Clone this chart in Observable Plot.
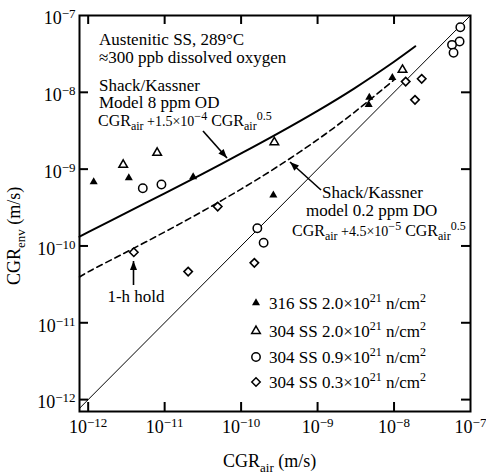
<!DOCTYPE html>
<html><head><meta charset="utf-8">
<script src="https://cdn.jsdelivr.net/npm/d3@7"></script>
<script src="https://cdn.jsdelivr.net/npm/@observablehq/plot@0.6"></script>
<style>
body{margin:0;background:#fff}
svg{font-family:"Liberation Serif","Times New Roman",serif}
svg text{white-space:pre}
</style>
</head><body><div id="chart"></div>
<script>
// ---- axis ticks ----
const decadeTicks = [1e-12, 1e-11, 1e-10, 1e-9, 1e-8, 1e-7];
const xDomain = [7.7e-13, 1e-7];
const yDomain = [7e-13, 1e-7];

// ---- data series ----
// 316 SS 2.0x10^21 n/cm^2 (filled triangles)
const ss316_x = [1.18e-12, 3.4e-12, 2.36e-11, 2.64e-10, 4.75e-9, 4.66e-9, 9.5e-9];
const ss316_y = [6.8e-10, 7.7e-10, 7.9e-10, 4.6e-10, 8.6e-9, 6.9e-9, 1.55e-8];
// 304 SS 2.0x10^21 n/cm^2 (open triangles)
const ss304a_x = [2.87e-12, 7.98e-12, 2.72e-10, 1.29e-8];
const ss304a_y = [1.14e-9, 1.63e-9, 2.24e-9, 1.96e-8];
// 304 SS 0.9x10^21 n/cm^2 (open circles)
const ss304b_x = [5.18e-12, 9.08e-12, 1.63e-10, 1.97e-10, 7.36e-8, 7.2e-8, 5.73e-8, 6.0e-8];
const ss304b_y = [5.64e-10, 6.3e-10, 1.70e-10, 1.1e-10, 7.04e-8, 4.58e-8, 4.15e-8, 3.27e-8];
// 304 SS 0.3x10^21 n/cm^2 (open diamonds)
const ss304c_x = [3.95e-12, 2.03e-11, 4.94e-11, 1.49e-10, 1.42e-8, 2.3e-8, 1.88e-8];
const ss304c_y = [8.28e-11, 4.64e-11, 3.26e-10, 6.03e-11, 1.38e-8, 1.5e-8, 7.98e-9];

// Shack/Kassner model 8 ppm (solid curve)
const model8_x = [7.7e-13, 1e-12, 3e-12, 1e-11, 3e-11, 1e-10, 3e-10, 1e-9, 3e-9, 1e-8, 1.9e-8];
const model8_y = [1.32e-10, 1.51e-10, 2.63e-10, 4.84e-10, 8.5e-10, 1.6e-9, 2.9e-9, 5.74e-9, 1.12e-8, 2.5e-8, 3.97e-8];
// Shack/Kassner model 0.2 ppm (dashed curve)
const model02_x = [7.7e-13, 1e-12, 3e-12, 1e-11, 3e-11, 1e-10, 3e-10, 1e-9, 3e-9, 1e-8];
const model02_y = [3.95e-11, 4.6e-11, 8.1e-11, 1.52e-10, 2.76e-10, 5.5e-10, 1.08e-9, 2.42e-9, 5.46e-9, 1.45e-8];
// 1:1 line
const diag = [7e-13, 1e-7];

const pts = (xs, ys) => xs.map((x, i) => ({x, y: ys[i]}));

const W = 486, H = 475, mL = 79, mR = 16, mT = 15, mB = 64;
const fw = W - mL - mR, fh = H - mT - mB, TL = 9;
const fmt = d => "10|" + String(Math.round(Math.log10(d))).replace("-", "\u2212");

const plot = Plot.plot({
  width: W, height: H,
  marginLeft: mL, marginRight: mR, marginTop: mT, marginBottom: mB,
  style: {fontFamily: '"Liberation Serif","Times New Roman",serif', background: "white"},
  x: {type: "log", domain: xDomain},
  y: {type: "log", domain: yDomain},
  marks: [
    Plot.line(diag.map(v => ({x: v, y: v})), {x: "x", y: "y", stroke: "black", strokeWidth: 1, clip: true}),
    Plot.line(pts(model8_x, model8_y), {x: "x", y: "y", stroke: "black", strokeWidth: 2, curve: "catmull-rom"}),
    Plot.line(pts(model02_x, model02_y), {x: "x", y: "y", stroke: "black", strokeWidth: 1.6, strokeDasharray: "6,4", curve: "catmull-rom"}),
    Plot.dot(pts(ss316_x, ss316_y), {x: "x", y: "y", symbol: "triangle", r: 3, fill: "black", stroke: "none"}),
    Plot.dot(pts(ss304a_x, ss304a_y), {x: "x", y: "y", symbol: "triangle", r: 3.2, fill: "white", stroke: "black", strokeWidth: 1.5}),
    Plot.dot(pts(ss304b_x, ss304b_y), {x: "x", y: "y", symbol: "circle", r: 4.2, fill: "white", stroke: "black", strokeWidth: 1.5}),
    Plot.dot(pts(ss304c_x, ss304c_y), {x: "x", y: "y", symbol: "diamond2", r: 3.8, fill: "white", stroke: "black", strokeWidth: 1.6}),
    // inward ticks on all four sides
    Plot.ruleX(decadeTicks.slice(0, 5), {x: d => d, insetTop: fh - TL, stroke: "black", strokeWidth: 2}),
    Plot.ruleX(decadeTicks.slice(0, 5), {x: d => d, insetBottom: fh - TL, stroke: "black", strokeWidth: 2}),
    Plot.ruleY(decadeTicks.slice(0, 5), {y: d => d, insetRight: fw - TL, stroke: "black", strokeWidth: 2}),
    Plot.ruleY(decadeTicks.slice(0, 5), {y: d => d, insetLeft: fw - TL, stroke: "black", strokeWidth: 2}),
    Plot.axisX(decadeTicks, {anchor: "bottom", tickSize: 0, tickPadding: 9, tickFormat: fmt, fontSize: 18, label: null, fill: "black"}),
    Plot.axisY(decadeTicks, {anchor: "left", tickSize: 0, tickPadding: 4, tickFormat: fmt, fontSize: 18, label: null, dy: 3, fill: "black"}),
    Plot.frame({stroke: "black", strokeWidth: 2})
  ]
});
document.getElementById("chart").appendChild(plot);

const svg = d3.select(plot);
// superscripts in tick labels
svg.selectAll('g[aria-label="x-axis tick label"] text, g[aria-label="y-axis tick label"] text').each(function() {
  const s = this.textContent;
  if (!s.includes("|")) return;
  const [b, e] = s.split("|");
  const t = d3.select(this);
  t.text(null);
  t.append("tspan").attr("font-size", 18).text(b);
  t.append("tspan").attr("font-size", 13).attr("dy", -6).text(e);
});

const ann = svg.append("g").attr("fill", "black").attr("text-anchor", "start");
function rich(x, y, parts, opts = {}) {
  const t = ann.append("text").attr("x", x).attr("y", y).attr("text-anchor", opts.anchor || "start");
  if (opts.transform) t.attr("transform", opts.transform).attr("x", 0).attr("y", 0);
  let cur = 0;
  for (const [s, size, shift = 0] of parts) {
    const ts = t.append("tspan").attr("font-size", size).text(s);
    if (shift !== cur) { ts.attr("dy", shift - cur); cur = shift; }
  }
  return t;
}
function arrow(x1, y1, x2, y2) {
  ann.append("line").attr("x1", x1).attr("y1", y1).attr("x2", x2).attr("y2", y2)
    .attr("stroke", "black").attr("stroke-width", 1.6);
  const a = Math.atan2(y2 - y1, x2 - x1), L = 9, w = 3.5;
  const bx = x2 - L * Math.cos(a), by = y2 - L * Math.sin(a);
  const px = -Math.sin(a) * w, py = Math.cos(a) * w;
  ann.append("path").attr("d", `M${x2},${y2}L${bx + px},${by + py}L${bx - px},${by - py}Z`).attr("fill", "black");
}

// texts
rich(99, 45, [["Austenitic SS, 289°C", 17]]);
rich(99, 63, [["\u2248300 ppb dissolved oxygen", 17]]);
rich(99, 91, [["Shack/Kassner", 17]]);
rich(99, 108, [["Model 8 ppm OD", 17]]);
rich(98, 126, [["CGR", 16], ["air", 12, 4], [" +1.5×10", 14, 0], ["\u22124", 12, -6], [" CGR", 16, 0], ["air", 12, 4], ["0.5", 12, -6]]);
arrow(203, 131, 227, 158);

rich(322, 198, [["Shack/Kassner", 17]]);
rich(306, 216, [["model 0.2 ppm DO", 17]]);
rich(292, 236, [["CGR", 16], ["air", 12, 4], [" +4.5×10", 14, 0], ["\u22125", 12, -6], [" CGR", 16, 0], ["air", 12, 4], ["0.5", 12, -6]]);
arrow(321, 190, 290, 162);

rich(136, 302, [["1-h hold", 17]], {anchor: "middle"});
arrow(133.5, 285, 133.5, 261);

// legend
const legendRows = [
  {type: d3.symbolTriangle, r: 3, fill: "black", stroke: "none", label: "316 SS 2.0×10", y: 303},
  {type: d3.symbolTriangle, r: 3.2, fill: "white", stroke: "black", label: "304 SS 2.0×10", y: 331},
  {type: d3.symbolCircle, r: 4.2, fill: "white", stroke: "black", label: "304 SS 0.9×10", y: 357},
  {type: d3.symbolDiamond2, r: 3.8, fill: "white", stroke: "black", label: "304 SS 0.3×10", y: 382}
];
for (const row of legendRows) {
  ann.append("path").attr("transform", `translate(256,${row.y})`)
    .attr("d", d3.symbol(row.type, Math.PI * row.r * row.r)())
    .attr("fill", row.fill).attr("stroke", row.stroke).attr("stroke-width", 1.5);
  rich(269, row.y + 6, [[row.label, 17], ["21", 12, -7], [" n/cm", 17, 0], ["2", 12, -7]]);
}

// axis titles
rich(223, 467, [["CGR", 18], ["air", 13, 5], [" (m/s)", 18, 0]]);
rich(0, 0, [["CGR", 18], ["env", 13, 5], [" (m/s)", 18, 0]], {transform: "translate(20,285) rotate(-90)"});
</script>
</body></html>
